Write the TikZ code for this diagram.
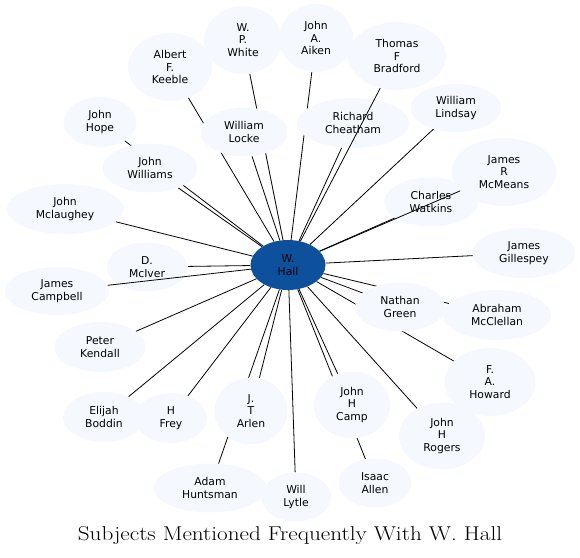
\documentclass[tikz,border=0pt]{standalone}
\usepackage{fontspec}
\usetikzlibrary{shapes.geometric,backgrounds}
\newfontfamily\subjfont{DejaVu Sans}
\newcommand\titlefont{\fontsize{20}{23}\selectfont}
\definecolor{hubblue}{HTML}{0D519C}
\definecolor{subjfill}{HTML}{F5F9FF}

\begin{document}
\begin{tikzpicture}[x=1pt,y=-1pt,
  subj/.style={ellipse,fill=subjfill,inner sep=0pt,align=center,font=\subjfont\fontsize{10.8}{12.5}\selectfont},
  hub/.style={subj,fill=hubblue},
  link/.style={line width=.8pt}]
\useasboundingbox(0,0)rectangle(580,557);
% subjects, top half
\node[subj,minimum width=78pt,minimum height=68pt](white)at(243,40){W.\\P.\\White};
\node[subj,minimum width=84pt,minimum height=68pt](keeble)at(170,67){Albert\\F.\\Keeble};
\node[subj,minimum width=74pt,minimum height=68pt](aiken)at(316,38){John\\A.\\Aiken};
\node[subj,minimum width=98pt,minimum height=68pt](bradford)at(397,56){Thomas\\F\\Bradford};
\node[subj,minimum width=87pt,minimum height=49pt](locke)at(244,132){William\\Locke};
\node[subj,minimum width=112pt,minimum height=50pt](cheatham)at(353,123){Richard\\Cheatham};
\node[subj,minimum width=91pt,minimum height=48pt](lindsay)at(456,108){William\\Lindsay};
\node[subj,minimum width=73pt,minimum height=50pt](hope)at(100,122){John\\Hope};
\node[subj,minimum width=95pt,minimum height=49pt](williams)at(150,168){John\\Williams};
\node[subj,minimum width=105pt,minimum height=68pt](mcmeans)at(504,172){James\\R\\McMeans};
\node[subj,minimum width=94pt,minimum height=49pt](watkins)at(431,202){Charles\\Watkins};
\node[subj,minimum width=117pt,minimum height=50pt](mclaughey)at(65,209){John\\Mclaughey};
\node[subj,minimum width=81pt,minimum height=49pt](mciver)at(147,267){D.\\McIver};
\node[subj,minimum width=103pt,minimum height=50pt](gillespey)at(524,253){James\\Gillespey};
\node[subj,minimum width=104pt,minimum height=48pt](campbell)at(57,291){James\\Campbell};
% subjects, bottom half
\node[subj,minimum width=90pt,minimum height=49pt](green)at(400,307){Nathan\\Green};
\node[subj,minimum width=108pt,minimum height=50pt](mcclellan)at(497,315){Abraham\\McClellan};
\node[subj,minimum width=91pt,minimum height=50pt](kendall)at(100,347){Peter\\Kendall};
\node[subj,minimum width=91pt,minimum height=68pt](howard)at(490,382){F.\\A.\\Howard};
\node[subj,minimum width=82pt,minimum height=50pt](boddin)at(104,417){Elijah\\Boddin};
\node[subj,minimum width=72pt,minimum height=50pt](frey)at(171,418){H\\Frey};
\node[subj,minimum width=73pt,minimum height=67pt](arlen)at(251,411){J.\\T\\Arlen};
\node[subj,minimum width=76pt,minimum height=67pt](camp)at(352,405){John\\H\\Camp};
\node[subj,minimum width=86pt,minimum height=67pt](rogers)at(442,436){John\\H\\Rogers};
\node[subj,minimum width=73pt,minimum height=49pt](allen)at(375,483){Isaac\\Allen};
\node[subj,minimum width=113pt,minimum height=49pt](huntsman)at(210,488){Adam\\Huntsman};
\node[subj,minimum width=70pt,minimum height=49pt](lytle)at(296,497){Will\\Lytle};
% hub
\node[hub,minimum width=75pt,minimum height=50pt](hall)at(288,265){W.\\Hall};
% links, most run under the nodes
\begin{pgfonlayer}{background}
\foreach \s in {white,keeble,aiken,locke,cheatham,lindsay,hope,williams,watkins,mclaughey,mciver,gillespey,green,mcclellan,howard,kendall,boddin,frey,arlen,camp,rogers,allen,huntsman,lytle}
  \draw[link](hall)--(\s);
\end{pgfonlayer}
\foreach \s in {bradford,mcmeans,campbell}\draw[link](hall)--(\s);
\node[anchor=base,font=\titlefont](title)at(290,540.5){\scalebox{1.16}[1]{Subjects Mentioned Frequently With W. Hall}};
\end{tikzpicture}
\end{document}
